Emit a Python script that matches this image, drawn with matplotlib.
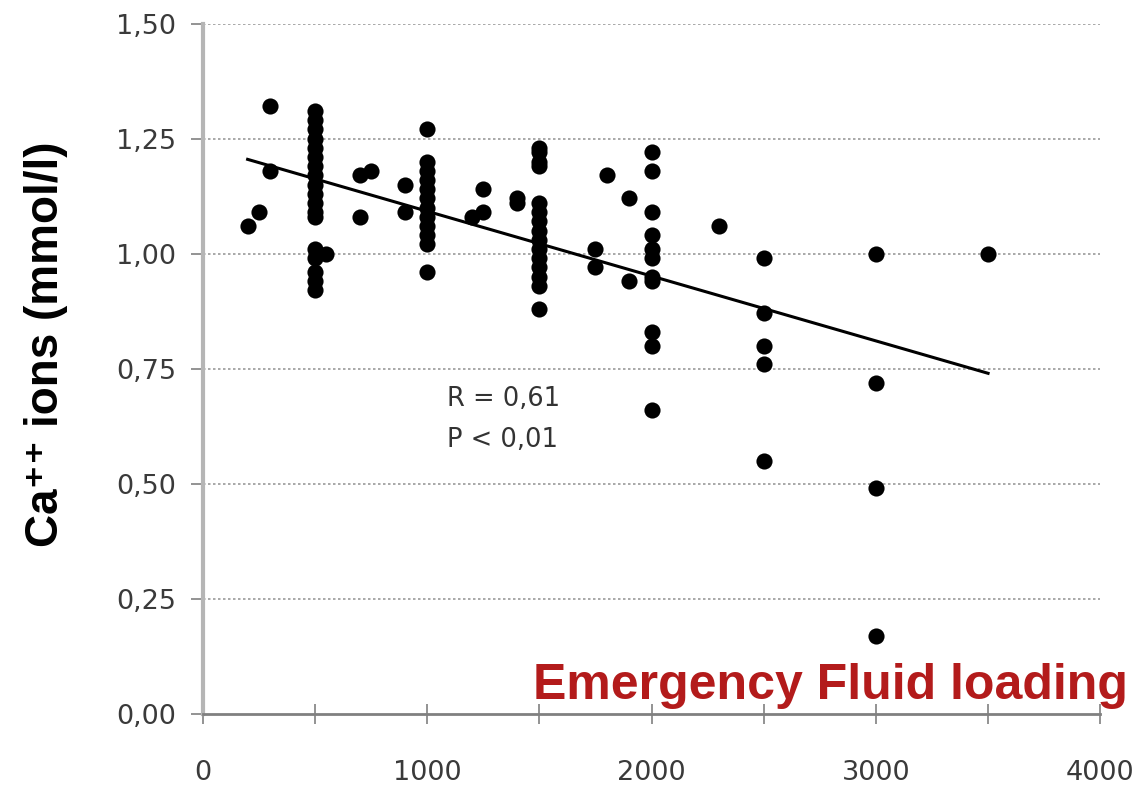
import numpy as np
import matplotlib
matplotlib.use("Agg")
import matplotlib.pyplot as plt
from matplotlib.ticker import MultipleLocator, FuncFormatter

# fluid volume (ml) and ionised calcium (mmol/l) per patient
volume = (
    [200, 250, 300, 300]
    + [500] * 13 + [500] * 5 + [550]
    + [700, 700, 750, 900, 900]
    + [1000] * 11 + [1000]
    + [1200, 1250, 1250, 1400, 1400]
    + [1500] * 4 + [1500] * 10 + [1500]
    + [1750, 1750, 1800, 1900, 1900]
    + [2000] * 11
    + [2300]
    + [2500] * 5
    + [3000] * 4
    + [3500]
)
calcium = (
    [1.06, 1.09, 1.32, 1.18]
    + [1.31, 1.29, 1.27, 1.25, 1.23, 1.21, 1.19, 1.17, 1.15, 1.13, 1.11, 1.09, 1.08]
    + [1.01, 0.99, 0.96, 0.94, 0.92] + [1.00]
    + [1.17, 1.08, 1.18, 1.15, 1.09]
    + [1.27, 1.20, 1.18, 1.16, 1.14, 1.12, 1.10, 1.08, 1.06, 1.04, 1.02] + [0.96]
    + [1.08, 1.09, 1.14, 1.12, 1.11]
    + [1.23, 1.22, 1.20, 1.19]
    + [1.11, 1.09, 1.07, 1.05, 1.03, 1.01, 0.99, 0.97, 0.95, 0.93] + [0.88]
    + [1.01, 0.97, 1.17, 1.12, 0.94]
    + [1.22, 1.18, 1.09, 1.04, 1.01, 0.99, 0.95, 0.94, 0.83, 0.80, 0.66]
    + [1.06]
    + [0.99, 0.87, 0.80, 0.76, 0.55]
    + [1.00, 0.72, 0.49, 0.17]
    + [1.00]
)

# regression line end points
trend_x = [200, 3500]
trend_y = [1.205, 0.74]

y_ticks = [0, 0.25, 0.5, 0.75, 1.0, 1.25, 1.5]

fig = plt.figure(figsize=(11.39, 7.87), dpi=100)
ax = fig.add_axes([0.178, 0.093, 0.788, 0.877])

ax.scatter(volume, calcium, s=135, color="black", zorder=3, linewidths=0)
ax.plot(trend_x, trend_y, color="black", lw=2.2, zorder=4)

ax.set_xlim(0, 4000)
ax.set_ylim(0, 1.5)
ax.set_yticks(y_ticks)
ax.xaxis.set_major_locator(MultipleLocator(1000))
ax.xaxis.set_minor_locator(MultipleLocator(500))

comma = FuncFormatter(lambda v, p: f"{v:.2f}".replace(".", ","))
ax.yaxis.set_major_formatter(comma)
ax.xaxis.set_major_formatter(FuncFormatter(lambda v, p: f"{v:.0f}"))

for y in y_ticks[1:]:
    ax.axhline(y, color="#999999", lw=1.2, ls=(0, (1.5, 1.5)), zorder=1)

for side in ("top", "right"):
    ax.spines[side].set_visible(False)
ax.spines["left"].set_color("#b5b5b5")
ax.spines["left"].set_linewidth(3)
ax.spines["bottom"].set_color("#808080")
ax.spines["bottom"].set_linewidth(2)

ax.tick_params(axis="y", direction="out", length=9, width=1.2, color="#808080",
               labelsize=19.5, labelcolor="#3a3a3a", pad=10)
ax.tick_params(axis="x", which="both", direction="inout", length=14, width=1.2,
               color="#808080", labelsize=19.5, labelcolor="#3a3a3a", pad=26)

ax.set_ylabel("Ca\u207a\u207a ions (mmol/l)", fontsize=33, fontweight="bold",
              family=["Liberation Sans", "DejaVu Sans"])
ax.yaxis.set_label_coords(-0.15, 0.535)

fig.text(0.99, 0.128, "Emergency Fluid loading", color="#b31b1b", fontsize=36,
         fontweight="bold", family="Liberation Sans", ha="right", va="center")
ax.text(1090, 0.685, "R = 0,61", fontsize=18.5, color="#333333", ha="left", va="center")
ax.text(1090, 0.595, "P < 0,01", fontsize=18.5, color="#333333", ha="left", va="center")

fig.savefig("out.png", dpi=100)
